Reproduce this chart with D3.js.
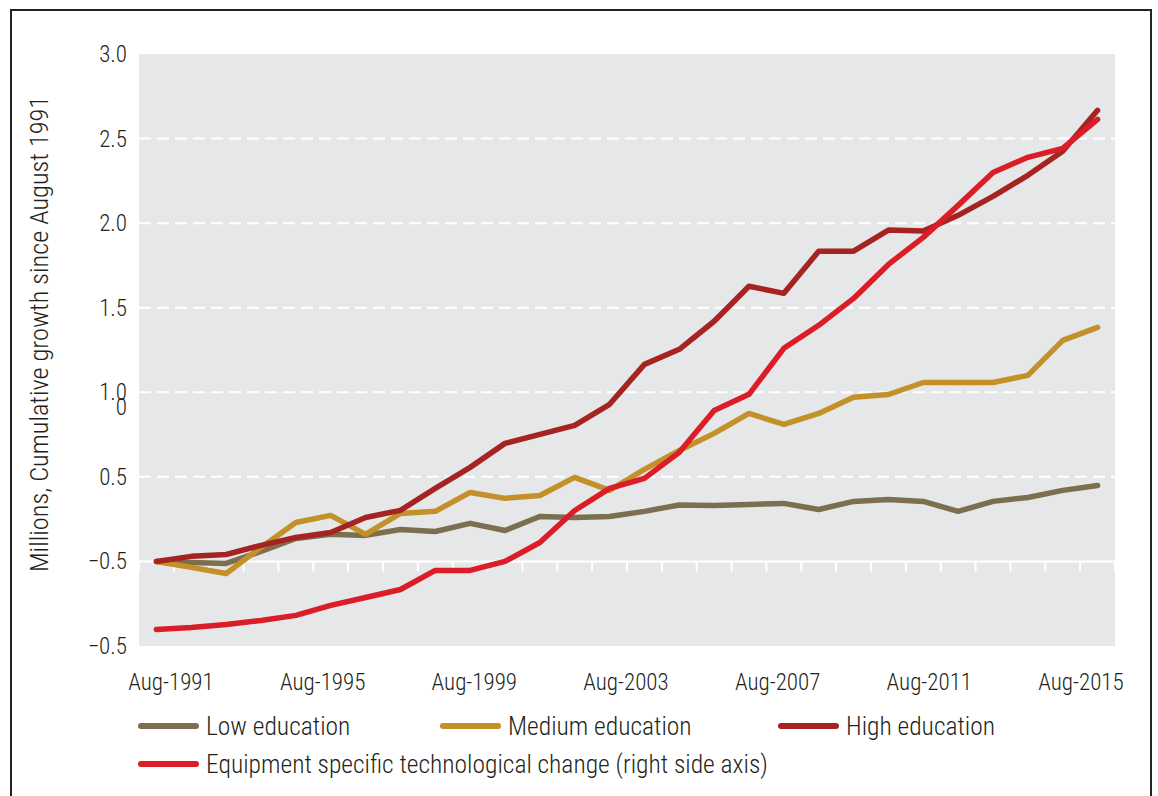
<!DOCTYPE html>
<html>
<head>
<meta charset="utf-8">
<script src="https://cdn.jsdelivr.net/npm/d3@7"></script>
<style>
  body { margin: 0; background: #fff; }
  svg { display: block; }
  text { font-family: "Roboto Condensed", "Liberation Sans Narrow", "DejaVu Sans Condensed", Roboto, sans-serif; font-weight: 300; fill: #231f20; }
</style>
</head>
<body>
<svg width="1158" height="796"></svg>
<script>
// values (left axis units, ESTC drawn on same frame)
const lowEdu = [0, -0.006, -0.012, 0.059, 0.136, 0.160, 0.154, 0.189, 0.177, 0.225, 0.183, 0.266, 0.260, 0.266,
    0.296, 0.334, 0.331, 0.337, 0.343, 0.307, 0.355, 0.366, 0.355, 0.296, 0.355, 0.378, 0.420, 0.449];
const medEdu = [0, -0.035, -0.071, 0.083, 0.230, 0.272, 0.160, 0.284, 0.296, 0.408, 0.373, 0.390, 0.497, 0.420,
    0.544, 0.656, 0.757, 0.875, 0.810, 0.875, 0.970, 0.987, 1.058, 1.058, 1.058, 1.100, 1.307, 1.384];
const highEdu = [0, 0.030, 0.041, 0.095, 0.142, 0.171, 0.260, 0.302, 0.432, 0.556, 0.698, 0.751, 0.804, 0.929,
    1.165, 1.254, 1.420, 1.627, 1.585, 1.834, 1.834, 1.959, 1.953, 2.046, 2.158, 2.283, 2.425, 2.667];
const estc = [-0.402, -0.390, -0.373, -0.349, -0.319, -0.260, -0.213, -0.166, -0.053, -0.053, 0, 0.112, 0.301, 0.432,
    0.491, 0.645, 0.893, 0.988, 1.260, 1.396, 1.555, 1.756, 1.916, 2.105, 2.300, 2.389, 2.442, 2.614];

const xLabels = ["Aug-1991", "Aug-1995", "Aug-1999", "Aug-2003", "Aug-2007", "Aug-2011", "Aug-2015"];
const yTicks = [3, 2.5, 2, 1.5, 1, 0.5, 0, -0.5];
const yTickText = ["3.0", "2.5", "2.0", "1.5", "1.0", "0.5", "\u22120.5", "\u22120.5"];
const strayTick = { value: 0.915, text: "0" };

const series = [
    { name: "Low education", values: lowEdu, color: "#7c6f50" },
    { name: "Medium education", values: medEdu, color: "#c3902a" },
    { name: "High education", values: highEdu, color: "#a52320" },
    { name: "Equipment specific technological change (right side axis)", values: estc, color: "#da1d26" }
];

const svg = d3.select("svg");
const plot = { left: 139, right: 1115, top: 54, bottom: 646 };

// frame
svg.append("rect")
    .attr("x", 11).attr("y", 10)
    .attr("width", 1140).attr("height", 800)
    .attr("fill", "none")
    .attr("stroke", "#222")
    .attr("stroke-width", 2);

const periods = d3.range(lowEdu.length);
const x = d3.scaleBand().domain(periods).range([plot.left, plot.right]);
const y = d3.scaleLinear().domain([-0.5, 3]).range([plot.bottom, plot.top]);
const xl = d3.scaleLinear().domain([0, xLabels.length - 1]).range([171, 1081]);

svg.append("rect")
    .attr("x", plot.left).attr("y", plot.top)
    .attr("width", plot.right - plot.left).attr("height", plot.bottom - plot.top)
    .attr("fill", "#e6e7e8");

// dashed grid
svg.append("g").selectAll("line")
    .data(yTicks.filter(d => d > 0 && d < 3))
    .join("line")
    .attr("x1", plot.left).attr("x2", plot.right)
    .attr("y1", d => y(d)).attr("y2", d => y(d))
    .attr("stroke", "#fff")
    .attr("stroke-width", 2)
    .attr("stroke-dasharray", "12,6");

// zero line with ticks
svg.append("line")
    .attr("x1", plot.left - 2).attr("x2", plot.right)
    .attr("y1", y(0)).attr("y2", y(0))
    .attr("stroke", "#fff").attr("stroke-width", 2);

svg.append("g").selectAll("line")
    .data(periods.concat([periods.length]))
    .join("line")
    .attr("x1", d => plot.left + d * x.step())
    .attr("x2", d => plot.left + d * x.step())
    .attr("y1", y(0)).attr("y2", y(0) + 10)
    .attr("stroke", "#fff").attr("stroke-width", 2);

// y labels
svg.append("g").selectAll("text")
    .data(yTicks)
    .join("text")
    .attr("x", 127)
    .attr("y", d => y(d))
    .attr("dy", "0.35em")
    .attr("text-anchor", "end")
    .style("font-size", "23px")
    .text((d, i) => yTickText[i]);

svg.append("text")
    .attr("x", 127)
    .attr("y", y(strayTick.value))
    .attr("dy", "0.35em")
    .attr("text-anchor", "end")
    .style("font-size", "23px")
    .text(strayTick.text);

svg.append("text")
    .attr("transform", `translate(48,${334}) rotate(-90)`)
    .attr("text-anchor", "middle")
    .style("font-size", "26.3px")
    .text("Millions, Cumulative growth since August 1991");

// x labels
svg.append("g").selectAll("text")
    .data(xLabels)
    .join("text")
    .attr("x", (d, i) => xl(i))
    .attr("y", 690)
    .attr("text-anchor", "middle")
    .style("font-size", "23px")
    .text(d => d);

// lines
const line = d3.line()
    .x((d, i) => x(i) + x.bandwidth() / 2)
    .y(d => y(d));

svg.append("g").selectAll("path")
    .data(series)
    .join("path")
    .attr("d", d => line(d.values))
    .attr("fill", "none")
    .attr("stroke", d => d.color)
    .attr("stroke-width", 5.5)
    .attr("stroke-linejoin", "round")
    .attr("stroke-linecap", "round");

// legend
const legendPos = [
    { x: 141, y: 726 },
    { x: 443, y: 726 },
    { x: 781, y: 726 },
    { x: 141, y: 764 }
];
const legend = svg.append("g").selectAll("g")
    .data(series)
    .join("g")
    .attr("transform", (d, i) => `translate(${legendPos[i].x},${legendPos[i].y})`);

legend.append("line")
    .attr("x1", 0).attr("x2", 55)
    .attr("stroke", d => d.color)
    .attr("stroke-width", 6)
    .attr("stroke-linecap", "round");

legend.append("text")
    .attr("x", 65)
    .attr("dy", "0.35em")
    .style("font-size", "25.5px")
    .text(d => d.name);
</script>
</body>
</html>
